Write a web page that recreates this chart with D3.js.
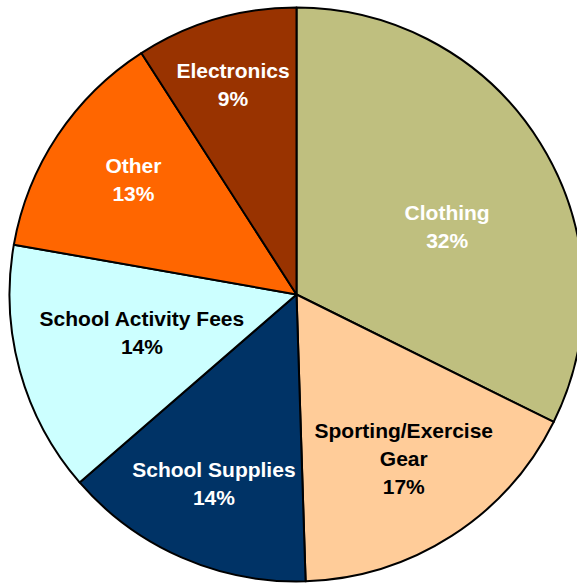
<!DOCTYPE html>
<html>
<head>
<meta charset="utf-8">
<script src="https://cdn.jsdelivr.net/npm/d3@7/dist/d3.min.js"></script>
<style>
  html, body { margin: 0; padding: 0; background: #fff; }
  svg { display: block; }
</style>
</head>
<body>
<svg id="chart" width="577" height="583"></svg>
<script>
// Spending categories (clockwise from 12 o'clock) and their shares in percent
const categories = ["Clothing", "Sporting/Exercise Gear", "School Supplies", "School Activity Fees", "Other", "Electronics"];
const shares = [32, 17, 14, 14, 13, 9];
// Label text split into lines
const labelLines = [["Clothing"], ["Sporting/Exercise", "Gear"], ["School Supplies"], ["School Activity Fees"], ["Other"], ["Electronics"]];

// Styling
const fills = ["#BFBF7F", "#FFCC99", "#003366", "#CCFFFF", "#FF6600", "#993300"];
const textFills = ["#fff", "#000", "#fff", "#000", "#fff", "#fff"];
// label placement: fraction of radius and angular nudge (degrees) from slice mid-angle
const labelRadius = [0.576, 0.682, 0.718, 0.555, 0.695, 0.763];
const labelNudge = [7.5, -0.5, 0, 1.5, 1.5, -0.5];

const cx = 296.5, cy = 294.5, R = 287;
const fontSize = 21, lineH = 28, capH = 15;

const svg = d3.select("#chart");
const g = svg.append("g").attr("transform", `translate(${cx},${cy})`);

const data = categories.map((c, i) => ({ name: c, value: shares[i], i }));
const pie = d3.pie().value(d => d.value).sort(null);
const arc = d3.arc().innerRadius(0).outerRadius(R);
const arcs = pie(data);

g.selectAll("path.slice")
  .data(arcs)
  .join("path")
  .attr("class", "slice")
  .attr("d", arc)
  .attr("fill", d => fills[d.data.i])
  .attr("stroke", "#000")
  .attr("stroke-width", 2)
  .attr("stroke-linejoin", "round");

g.selectAll("text.lbl")
  .data(arcs)
  .join("text")
  .attr("class", "lbl")
  .attr("text-anchor", "middle")
  .attr("font-family", "'Liberation Sans', Arial, sans-serif")
  .attr("font-weight", "bold")
  .attr("font-size", fontSize)
  .attr("fill", d => textFills[d.data.i])
  .each(function (d) {
    const i = d.data.i;
    const mid = (d.startAngle + d.endAngle) / 2 + labelNudge[i] * Math.PI / 180;
    const r = labelRadius[i] * R;
    const x = r * Math.sin(mid);
    const y = -r * Math.cos(mid);
    const lines = labelLines[i].concat([d3.format(".0f")(d.data.value) + "%"]);
    const n = lines.length;
    const first = y - (lineH * (n - 1) - capH) / 2;
    const t = d3.select(this);
    lines.forEach((ln, k) => {
      t.append("tspan").attr("x", x).attr("y", first + k * lineH).text(ln);
    });
  });
</script>
</body>
</html>
